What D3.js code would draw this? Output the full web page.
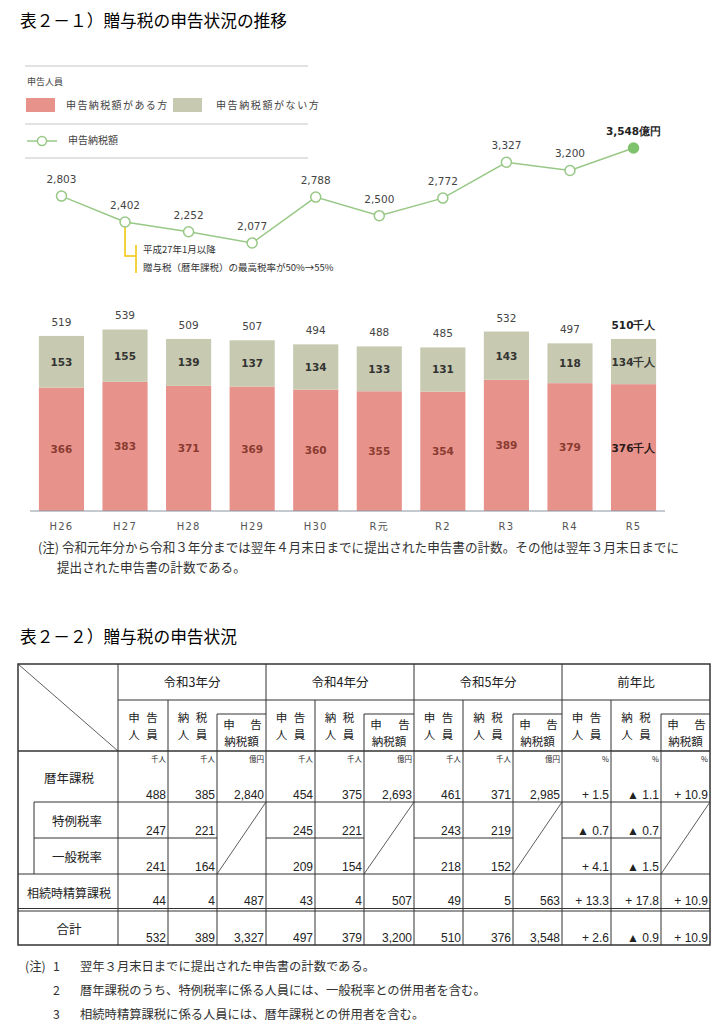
<!DOCTYPE html>
<html>
<head>
<meta charset="utf-8">
<script src="https://cdn.jsdelivr.net/npm/d3@7"></script>
<style>
  body { margin: 0; background: #fff; }
  svg text { font-family: "Noto Sans CJK JP", "DejaVu Sans", sans-serif; }
</style>
</head>
<body>
<svg id="chart" width="719" height="1024"></svg>
<script>
// chart data
const years = ["H26", "H27", "H28", "H29", "H30", "R元", "R2", "R3", "R4", "R5"];
const taxAmount = [2803, 2402, 2252, 2077, 2788, 2500, 2772, 3327, 3200, 3548];
const withTax = [366, 383, 371, 369, 360, 355, 354, 389, 379, 376];
const withoutTax = [153, 155, 139, 137, 134, 133, 131, 143, 118, 134];
const totals = [519, 539, 509, 507, 494, 488, 485, 532, 497, 510];

// table data
const tableGroups = ["令和3年分", "令和4年分", "令和5年分", "前年比"];
const rowLabels = ["暦年課税", "特例税率", "一般税率", "相続時精算課税", "合計"];
const unitLabels = ["千人", "千人", "億円", "千人", "千人", "億円", "千人", "千人", "億円", "%", "%", "%"];
const rowRekinen = ["488", "385", "2,840", "454", "375", "2,693", "461", "371", "2,985", "+ 1.5", "▲ 1.1", "+ 10.9"];
const rowTokurei = ["247", "221", null, "245", "221", null, "243", "219", null, "▲ 0.7", "▲ 0.7", null];
const rowIppan = ["241", "164", null, "209", "154", null, "218", "152", null, "+ 4.1", "▲ 1.5", null];
const rowSouzoku = ["44", "4", "487", "43", "4", "507", "49", "5", "563", "+ 13.3", "+ 17.8", "+ 10.9"];
const rowTotal = ["532", "389", "3,327", "497", "379", "3,200", "510", "376", "3,548", "+ 2.6", "▲ 0.9", "+ 10.9"];

const pink = "#e8928c";
const sage = "#c7cab0";
const lineGreen = "#98c886";

const svg = d3.select("#chart");

// ---- title + legend
svg.append("text").attr("x", 20).attr("y", 27)
  .style("font-size", "16.7px").text("表２－１）贈与税の申告状況の推移");

[66, 124, 158].forEach(y => {
  svg.append("line").attr("x1", 25).attr("x2", 308).attr("y1", y).attr("y2", y)
    .attr("stroke", "#b5b5b5").attr("stroke-width", 0.8);
});
const legText = (xx, yy, t, fs, ls) => svg.append("text").attr("x", xx).attr("y", yy)
  .style("font-size", fs).style("letter-spacing", ls).attr("fill", "#444").text(t);
legText(27, 85, "申告人員", "9px", "0px");
svg.append("rect").attr("x", 26).attr("y", 98).attr("width", 29).attr("height", 14).attr("fill", pink);
legText(66, 109, "申告納税額がある方", "10px", "1.4px");
svg.append("rect").attr("x", 173).attr("y", 98).attr("width", 29).attr("height", 14).attr("fill", sage);
legText(216, 109, "申告納税額がない方", "10px", "1.6px");
svg.append("line").attr("x1", 27).attr("x2", 57).attr("y1", 141).attr("y2", 141)
  .attr("stroke", lineGreen).attr("stroke-width", 1.5);
svg.append("circle").attr("cx", 42).attr("cy", 141).attr("r", 4.5)
  .attr("fill", "#fff").attr("stroke", lineGreen).attr("stroke-width", 1.5);
legText(68, 144, "申告納税額", "10px", "0px");

// ---- scales
const x = d3.scaleBand().domain(years).range([30, 665]).paddingInner(0.29).paddingOuter(0.14);
const cx = d => x(d) + x.bandwidth() / 2;
const yBar = d3.scaleLinear().domain([0, 600]).range([511, 308.6]);
const yLine = d3.scaleLinear().domain([2000, 3600]).range([248, 144.6]);

// ---- line
const pts = years.map((yr, i) => ({ yr, v: taxAmount[i], i }));
svg.append("path").datum(pts)
  .attr("d", d3.line().x(d => cx(d.yr)).y(d => yLine(d.v)))
  .attr("fill", "none").attr("stroke", lineGreen).attr("stroke-width", 1.5);

// annotation (H27 rate change)
const ax = cx("H27");
svg.append("path")
  .attr("d", `M${ax},${yLine(2402)} V256 H136`)
  .attr("fill", "none").attr("stroke", "#f0c400").attr("stroke-width", 1.5);
svg.append("line").attr("x1", 136).attr("x2", 136).attr("y1", 245).attr("y2", 273)
  .attr("stroke", "#f0c400").attr("stroke-width", 1.5);
svg.append("text").attr("x", 143).attr("y", 253).style("font-size", "9.5px").attr("fill", "#333").text("平成27年1月以降");
svg.append("text").attr("x", 143).attr("y", 271).style("font-size", "9.5px").attr("fill", "#333").text("贈与税（暦年課税）の最高税率が50%→55%");

svg.selectAll("circle.pt").data(pts).enter().append("circle").attr("class", "pt")
  .attr("cx", d => cx(d.yr)).attr("cy", d => yLine(d.v)).attr("r", 5)
  .attr("fill", d => d.i === pts.length - 1 ? "#7ec26c" : "#fff")
  .attr("stroke", d => d.i === pts.length - 1 ? "#7ec26c" : lineGreen).attr("stroke-width", 1.5);

svg.selectAll("text.lv").data(pts).enter().append("text").attr("class", "lv")
  .attr("x", d => cx(d.yr)).attr("y", d => yLine(d.v) - 13)
  .attr("text-anchor", "middle")
  .style("font-family", "'DejaVu Sans', sans-serif")
  .style("font-size", "10.5px")
  .style("font-weight", d => d.i === pts.length - 1 ? "bold" : "normal")
  .attr("fill", d => d.i === pts.length - 1 ? "#222" : "#444")
  .text(d => d3.format(",")(d.v) + (d.i === pts.length - 1 ? "億円" : ""));

// ---- bars
const bars = years.map((yr, i) => ({ yr, a: withTax[i], b: withoutTax[i], t: totals[i], last: i === years.length - 1 }));
svg.selectAll("rect.pk").data(bars).enter().append("rect").attr("class", "pk")
  .attr("x", d => x(d.yr)).attr("width", x.bandwidth())
  .attr("y", d => yBar(d.a)).attr("height", d => yBar(0) - yBar(d.a)).attr("fill", pink);
svg.selectAll("rect.sg").data(bars).enter().append("rect").attr("class", "sg")
  .attr("x", d => x(d.yr)).attr("width", x.bandwidth())
  .attr("y", d => yBar(d.a + d.b)).attr("height", d => yBar(d.a) - yBar(d.a + d.b)).attr("fill", sage);

const numFont = "'DejaVu Sans', sans-serif";
svg.selectAll("text.pkv").data(bars).enter().append("text")
  .attr("x", d => cx(d.yr)).attr("y", d => (yBar(d.a) + yBar(0)) / 2 + 4)
  .attr("text-anchor", "middle").style("font-family", numFont).style("font-size", "10.5px")
  .style("font-weight", "bold").attr("fill", d => d.last ? "#2a1a18" : "#8a3b30")
  .text(d => d.a + (d.last ? "千人" : ""));
svg.selectAll("text.sgv").data(bars).enter().append("text")
  .attr("x", d => cx(d.yr)).attr("y", d => (yBar(d.a) + yBar(d.a + d.b)) / 2 + 4)
  .attr("text-anchor", "middle").style("font-family", numFont).style("font-size", "10.5px")
  .style("font-weight", "bold").attr("fill", "#333")
  .text(d => d.b + (d.last ? "千人" : ""));
svg.selectAll("text.tv").data(bars).enter().append("text")
  .attr("x", d => cx(d.yr)).attr("y", d => yBar(d.t) - 10)
  .attr("text-anchor", "middle").style("font-family", numFont).style("font-size", "10.5px")
  .style("font-weight", d => d.last ? "bold" : "normal").attr("fill", d => d.last ? "#222" : "#444")
  .text(d => d.t + (d.last ? "千人" : ""));

svg.append("line").attr("x1", 30).attr("x2", 665).attr("y1", yBar(0)).attr("y2", yBar(0))
  .attr("stroke", "#8a95a0").attr("stroke-width", 1.2);
svg.selectAll("text.xl").data(years).enter().append("text")
  .attr("x", d => cx(d)).attr("y", 530).attr("text-anchor", "middle")
  .style("font-family", "'DejaVu Sans', 'Noto Sans CJK JP', sans-serif")
  .style("font-size", "10px").style("letter-spacing", "1.2px").attr("fill", "#555").text(d => d);

// ---- note 1
const noteStyle = (s, fs) => s.style("font-size", fs).attr("fill", "#333");
noteStyle(svg.append("text").attr("x", 38).attr("y", 552), "12.6px")
  .text("(注) 令和元年分から令和３年分までは翌年４月末日までに提出された申告書の計数。その他は翌年３月末日までに");
noteStyle(svg.append("text").attr("x", 57).attr("y", 572), "12.6px").text("提出された申告書の計数である。");

// ---- table 2-2
svg.append("text").attr("x", 20).attr("y", 643).style("font-size", "16.7px").text("表２－２）贈与税の申告状況");

const colX = [18, 118, 168, 217, 266, 315, 364, 414, 463, 513, 562, 611, 661, 710];
const rowY = [751, 802, 838, 874, 910, 945];
const tTop = 664, hdr1 = 700, box = 714;
const g = svg.append("g").attr("stroke", "#333").attr("stroke-width", 1).attr("fill", "none");
const ln = (x1, y1, x2, y2, w) => g.append("line").attr("x1", x1).attr("y1", y1).attr("x2", x2).attr("y2", y2)
  .attr("stroke-width", w || 1);

g.append("rect").attr("x", 18).attr("y", tTop).attr("width", 692).attr("height", 945 - tTop).attr("stroke-width", 1.5);
ln(118, hdr1, 710, hdr1);
[118, 266, 414, 562].forEach(c => ln(c, tTop, c, 945));
[168, 315, 463, 611].forEach(c => ln(c, hdr1, c, 945));
[217, 364, 513, 661].forEach(c => { ln(c, box, c, 945); });
[[217, 266], [364, 414], [513, 562], [661, 710]].forEach(([a, b]) => {
  ln(a, box, b, box);
  ln(a, rowY[3], b, rowY[1], 0.8); // slash
});
ln(18, rowY[0], 710, rowY[0], 1.3);
ln(34, rowY[1], 710, rowY[1]);
ln(34, rowY[1], 34, rowY[3]);
[[34, 217], [266, 364], [414, 513], [562, 661]].forEach(([a, b]) => ln(a, rowY[2], b, rowY[2]));
ln(18, rowY[3], 710, rowY[3]);
ln(18, rowY[4] - 1.5, 710, rowY[4] - 1.5);
ln(18, rowY[4] + 1, 710, rowY[4] + 1);
ln(18, tTop, 118, rowY[0], 0.8);

const tt = svg.append("g").attr("fill", "#222");
const cell = (xx, yy, t, fs, anchor) => tt.append("text").attr("x", xx).attr("y", yy)
  .attr("text-anchor", anchor || "middle").style("font-size", fs).text(t);
tableGroups.forEach((name, i) => {
  cell((colX[1 + i * 3] + colX[4 + i * 3]) / 2, 687, name, "12.5px");
});
const hs = "11.5px";
const subHead = [[["申", "告"], ["人", "員"]], [["納", "税"], ["人", "員"]]];
for (let gi = 0; gi < 4; gi++) {
  for (let s = 0; s < 2; s++) {
    const c = 1 + gi * 3 + s;
    const mid = (colX[c] + colX[c + 1]) / 2;
    subHead[s].forEach((pair, k) => {
      cell(mid - 9, 722 + k * 17, pair[0], hs);
      cell(mid + 9, 722 + k * 17, pair[1], hs);
    });
  }
  const c3 = 3 + gi * 3;
  cell(colX[c3] + 12, 729, "申", hs);
  cell(colX[c3 + 1] - 10, 729, "告", hs);
  cell((colX[c3] + colX[c3 + 1]) / 2, 746, "納税額", hs);
}
// units
unitLabels.forEach((u, j) => cell(colX[j + 2] - 2, 762, u, "7.5px", "end"));
// row labels
const labelPos = [[69, 783], [77, 826], [77, 862], [69, 898], [69, 934]];
rowLabels.forEach((t, i) => cell(labelPos[i][0], labelPos[i][1], t, i === 3 ? "12px" : "12.5px"));
// values
const rows = [rowRekinen, rowTokurei, rowIppan, rowSouzoku, rowTotal];
rows.forEach((r, i) => {
  const yb = (i === 3 ? rowY[4] - 2 : rowY[i + 1]) - 3;
  r.forEach((v, j) => {
    if (v == null) return;
    cell(colX[j + 2] - 2, yb, v, "12px", "end").style("font-family", "'Liberation Sans', sans-serif");
  });
});

// ---- bottom notes
const notes = [["(注)", "1", "翌年３月末日までに提出された申告書の計数である。"],
  ["", "2", "暦年課税のうち、特例税率に係る人員には、一般税率との併用者を含む。"],
  ["", "3", "相続時精算課税に係る人員には、暦年課税との併用者を含む。"]];
notes.forEach((n, i) => {
  const y = 971 + i * 24;
  noteStyle(svg.append("text").attr("x", 25).attr("y", y), "12.3px").text(n[0]);
  noteStyle(svg.append("text").attr("x", 53).attr("y", y), "12.3px").text(n[1]);
  noteStyle(svg.append("text").attr("x", 80).attr("y", y), "12.3px").text(n[2]);
});
</script>
</body>
</html>
